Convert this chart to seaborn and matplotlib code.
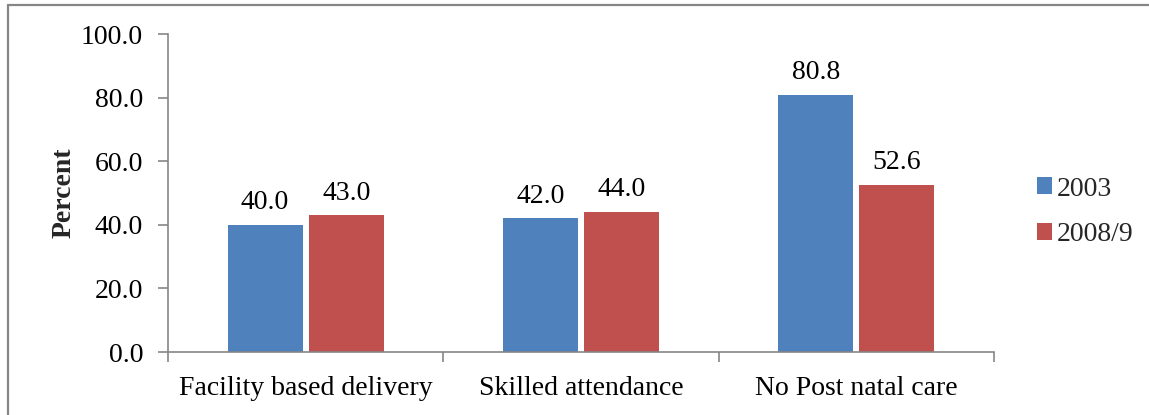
import matplotlib
matplotlib.use("Agg")
import matplotlib.pyplot as plt
from matplotlib.lines import Line2D
from matplotlib.patches import Patch
import seaborn as sns
import pandas as pd

# Maternal care indicators, two survey rounds
categories = ["Facility based delivery", "Skilled attendance", "No Post natal care"]
years = ["2003", "2008/9"]
values_2003 = [40.0, 42.0, 80.8]
values_2008 = [43.0, 44.0, 52.6]
y_ticks = [0, 20, 40, 60, 80, 100]

colors = {"2003": "#4F81BD", "2008/9": "#C0504D"}
axis_gray = "#868686"
FS = 20

df = pd.DataFrame({
    "category": categories * 2,
    "year": [years[0]] * 3 + [years[1]] * 3,
    "percent": values_2003 + values_2008,
})

sns.set_theme(style="white")
plt.rcParams["font.family"] = ["Liberation Serif", "DejaVu Serif"]

fig = plt.figure(figsize=(11.49, 4.15), dpi=100)
ax = fig.add_axes([168 / 1149, 1 - 352 / 415, (994 - 168) / 1149, (352 - 34) / 415])

sns.barplot(data=df, x="category", y="percent", hue="year", order=categories,
            hue_order=years, palette=colors, width=0.589, gap=0.073,
            saturation=1, ax=ax, legend=False, errorbar=None, linewidth=0)

for container in ax.containers:
    ax.bar_label(container, fmt="%.1f", padding=7, fontsize=FS, color="black")

ax.set_ylim(0, 100)
ax.set_xlim(-0.5, len(categories) - 0.5)
ax.set_yticks(y_ticks)
ax.set_yticklabels([f"{v:.1f}" for v in y_ticks])
ax.set_xlabel("")
ax.set_ylabel("Percent", fontsize=FS, fontweight="bold", labelpad=3)

# category boundaries carry the tick marks; labels sit between them
ax.set_xticks([-0.5, 0.5, 1.5, 2.5], minor=True)
ax.tick_params(axis="x", which="minor", bottom=True, length=7, width=1.2,
               color=axis_gray, direction="out")
ax.tick_params(axis="x", which="major", bottom=True, length=0, pad=17,
               labelsize=FS, labelcolor="black")
ax.tick_params(axis="y", which="major", left=True, length=7, width=1.2,
               color=axis_gray, direction="out", pad=11, labelsize=FS, labelcolor="black")

for side in ("top", "right"):
    ax.spines[side].set_visible(False)
for side in ("left", "bottom"):
    ax.spines[side].set_color(axis_gray)
    ax.spines[side].set_linewidth(1.2)
ax.grid(False)

handles = [Patch(facecolor=colors[y], edgecolor="none") for y in years]
fig.legend(handles, years, loc="center left", bbox_to_anchor=(1037 / 1149, 1 - 212 / 415),
           frameon=False, fontsize=FS, handlelength=0.55, handleheight=0.55,
           handletextpad=0.15, labelspacing=0.75, borderpad=0, borderaxespad=0)

# outer frame of the figure panel
fig.add_artist(Line2D([8 / 1149, 1], [1 - 5 / 415, 1 - 5 / 415], transform=fig.transFigure,
                      color=axis_gray, linewidth=1.6))
fig.add_artist(Line2D([8 / 1149, 8 / 1149], [0, 1 - 5 / 415], transform=fig.transFigure,
                      color=axis_gray, linewidth=1.6))

fig.savefig("out.png", dpi=100, facecolor="white")
